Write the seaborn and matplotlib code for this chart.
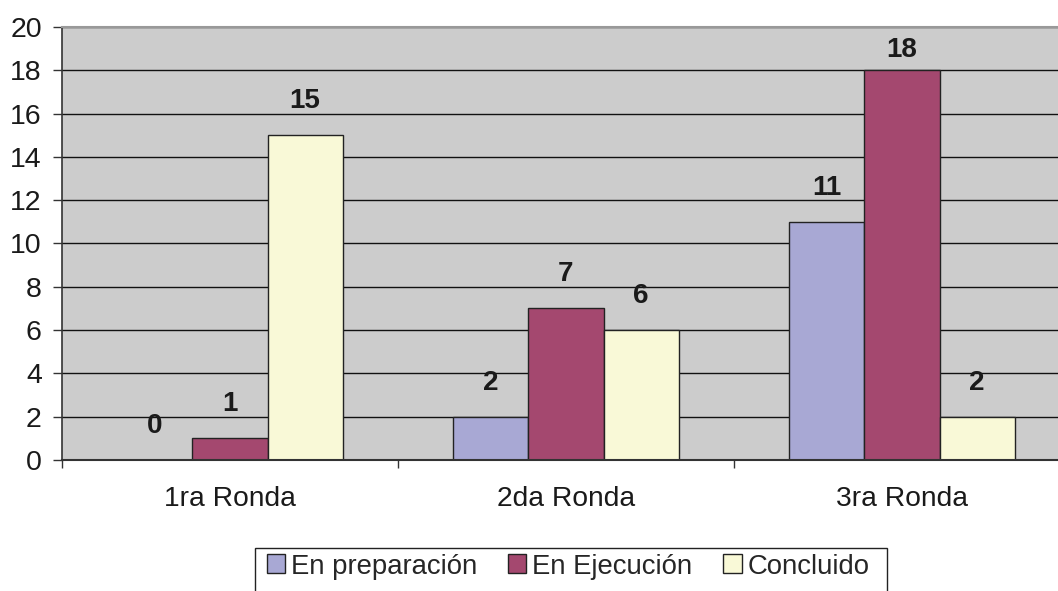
import pandas as pd
import numpy as np
import matplotlib.pyplot as plt
import seaborn as sns
from matplotlib.ticker import MultipleLocator, FixedLocator

sns.set_theme(style="white")
plt.rcParams["font.family"] = ["Liberation Sans", "DejaVu Sans"]

# data
rondas = ["1ra Ronda", "2da Ronda", "3ra Ronda"]
estados = ["En preparación", "En Ejecución", "Concluido"]
en_preparacion = [0, 2, 11]
en_ejecucion = [1, 7, 18]
concluido = [15, 6, 2]

colores = ["#A8A8D4", "#A4486F", "#F9F9D7"]

df = pd.DataFrame({
    "ronda": rondas * 3,
    "estado": [estados[0]] * 3 + [estados[1]] * 3 + [estados[2]] * 3,
    "valor": en_preparacion + en_ejecucion + concluido,
})

W, H = 1058, 591
fig = plt.figure(figsize=(W / 100, H / 100), dpi=100)
ax = fig.add_axes([62 / W, 1 - 460 / H, 1008 / W, 433 / H])
ax.set_facecolor("#CCCCCC")

sns.barplot(data=df, x="ronda", y="valor", hue="estado", order=rondas,
            hue_order=estados, palette=colores, width=0.67, gap=0,
            edgecolor="#222222", linewidth=1.0, saturation=1, ax=ax,
            legend=True)

ax.set_ylim(0, 20)
ax.set_xlim(-0.5, 2.5)
ax.yaxis.set_major_locator(MultipleLocator(2))
ax.grid(axis="y", color="#111111", linewidth=1.0)
ax.set_axisbelow(True)
ax.set_xlabel("")
ax.set_ylabel("")

# value labels (the top one is pulled down to stay inside the plot)
for cont, vals in zip(ax.containers, [en_preparacion, en_ejecucion, concluido]):
    for patch, v in zip(cont.patches, vals):
        xc = patch.get_x() + patch.get_width() / 2
        ax.text(xc, min(v + 1.25, 18.6), str(v), ha="center", va="baseline",
                fontsize=20, fontweight="bold", color="#1a1a1a")

# ticks
ax.tick_params(axis="y", which="major", length=6.5, width=1, color="#333333",
               labelsize=20.5, pad=8, labelcolor="#1a1a1a", left=True)
ax.tick_params(axis="x", which="major", length=0, labelsize=20.3, pad=19,
               labelcolor="#1a1a1a")
ax.xaxis.set_minor_locator(FixedLocator([-0.5, 0.5, 1.5]))
ax.tick_params(axis="x", which="minor", length=6, width=1, color="#333333",
               bottom=True)

ax.spines["right"].set_visible(False)
ax.spines["top"].set_color("#999999")
ax.spines["top"].set_linewidth(1.5)
ax.spines["left"].set_color("#333333")
ax.spines["bottom"].set_color("#333333")
ax.spines["left"].set_linewidth(1.2)
ax.spines["bottom"].set_linewidth(1.5)

handles, labels = ax.get_legend_handles_labels()
ax.legend_.remove()
leg = fig.legend(handles, labels, loc="upper left",
                 bbox_to_anchor=(261 / W, 1 - 548 / H), borderaxespad=0,
                 ncol=3, fontsize=19.8, frameon=False,
                 borderpad=0.2, handlelength=0.68, handleheight=0.68,
                 handletextpad=0.22, columnspacing=1.1)
for hd in leg.legend_handles:
    hd.set_edgecolor("#222222")
    hd.set_linewidth(1.0)

# legend box: wider than the legend itself and running off the bottom edge
fig.canvas.draw()
bb = leg.get_window_extent()
x0 = 255
x1 = bb.x1 + 12
y1 = H - 548
box = plt.Rectangle((x0 / W, -0.05), (x1 - x0) / W, y1 / H + 0.05,
                    transform=fig.transFigure, facecolor="none",
                    edgecolor="#222222", linewidth=1.0)
fig.patches.append(box)

fig.savefig("out.png", dpi=100)
